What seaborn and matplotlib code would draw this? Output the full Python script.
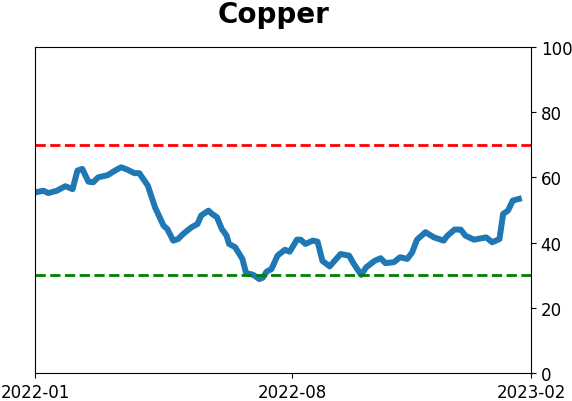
import pandas as pd
import matplotlib
matplotlib.use("Agg")
import matplotlib.pyplot as plt
import matplotlib.dates as mdates
import seaborn as sns

dates = ["2022-01-01", "2022-01-08", "2022-01-12", "2022-01-19", "2022-01-26",
         "2022-02-01", "2022-02-05", "2022-02-09", "2022-02-14", "2022-02-18",
         "2022-02-22", "2022-03-02", "2022-03-08", "2022-03-13", "2022-03-18",
         "2022-03-24", "2022-03-28", "2022-04-04", "2022-04-10", "2022-04-17",
         "2022-04-20", "2022-04-25", "2022-04-29", "2022-05-03", "2022-05-10",
         "2022-05-15", "2022-05-18", "2022-05-24", "2022-05-27", "2022-05-31",
         "2022-06-04", "2022-06-08", "2022-06-10", "2022-06-15", "2022-06-21",
         "2022-06-24", "2022-06-30", "2022-07-05", "2022-07-08", "2022-07-11",
         "2022-07-15", "2022-07-20", "2022-07-26", "2022-07-30", "2022-08-05",
         "2022-08-08", "2022-08-12", "2022-08-18", "2022-08-22", "2022-08-26",
         "2022-09-01", "2022-09-05", "2022-09-10", "2022-09-17", "2022-09-21",
         "2022-09-27", "2022-10-01", "2022-10-08", "2022-10-13", "2022-10-17",
         "2022-10-24", "2022-10-29", "2022-11-04", "2022-11-08", "2022-11-12",
         "2022-11-19", "2022-11-26", "2022-12-04", "2022-12-07", "2022-12-13",
         "2022-12-18", "2022-12-22", "2022-12-29", "2023-01-08", "2023-01-13",
         "2023-01-19", "2023-01-22", "2023-01-26", "2023-01-30", "2023-02-04"]
values = [55.4, 55.9, 55.2, 55.9, 57.3, 56.4, 62.1, 62.6, 58.7, 58.5,
          60.0, 60.7, 62.1, 63.1, 62.4, 61.3, 61.3, 57.5, 50.8, 45.2,
          44.2, 40.6, 41.1, 42.6, 44.7, 45.7, 48.3, 49.8, 48.8, 47.8,
          44.2, 42.1, 39.6, 38.6, 35.0, 30.7, 30.1, 28.8, 29.3, 31.1,
          31.9, 36.0, 37.8, 37.2, 40.9, 40.9, 39.6, 40.6, 40.3, 34.4,
          32.7, 34.4, 36.5, 36.0, 33.4, 30.1, 32.4, 34.4, 35.2, 33.7,
          34.0, 35.5, 35.0, 37.0, 40.9, 43.2, 41.6, 40.6, 42.1, 44.0,
          44.0, 42.1, 40.9, 41.6, 40.1, 41.1, 48.8, 49.8, 52.9, 53.4]
upper_level = 70
lower_level = 30
tick_dates = ["2022-01-01", "2022-08-01", "2023-02-14"]
x_limits = ["2022-01-01", "2023-02-14"]

df = pd.DataFrame({"date": pd.to_datetime(dates), "value": values})

fig = plt.figure(figsize=(5.72, 4.02), dpi=100)
ax = fig.add_axes([35 / 572, 1 - 374 / 402, 496 / 572, 326 / 402])

sns.lineplot(data=df, x="date", y="value", ax=ax, color="#1f77b4", linewidth=4.3)
ax.axhline(upper_level, color="red", linestyle="--", linewidth=2)
ax.axhline(lower_level, color="green", linestyle="--", linewidth=2)

ax.set_xlim(pd.to_datetime(x_limits))
ax.set_ylim(0, 100)
ax.set_xticks(pd.to_datetime(tick_dates))
ax.xaxis.set_major_formatter(mdates.DateFormatter("%Y-%m"))
ax.yaxis.tick_right()
ax.set_yticks(range(0, 101, 20))
ax.tick_params(labelsize=12)
ax.set_xlabel("")
ax.set_ylabel("")
ax.set_title("Copper", fontsize=20, fontweight="bold", pad=18, x=0.481)

fig.savefig("out.png", dpi=100)
